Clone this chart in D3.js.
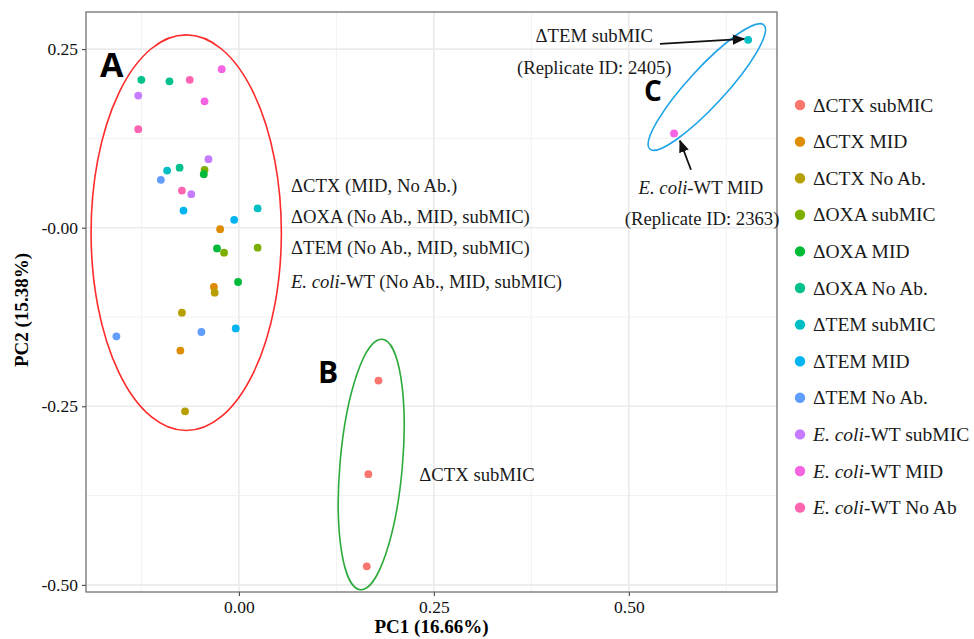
<!DOCTYPE html>
<html>
<head>
<meta charset="utf-8">
<script src="https://cdn.jsdelivr.net/npm/d3@7"></script>
<style>
  body { margin: 0; background: #fff; }
  text { font-family: "Liberation Serif", "Times New Roman", serif; }
</style>
</head>
<body>
<svg id="chart"></svg>
<script>

// groups, in legend order
var groups = ["ΔCTX subMIC", "ΔCTX MID", "ΔCTX No Ab.", "ΔOXA subMIC", "ΔOXA MID", "ΔOXA No Ab.",
  "ΔTEM subMIC", "ΔTEM MID", "ΔTEM No Ab.", "E. coli-WT subMIC", "E. coli-WT MID", "E. coli-WT No Ab"]
var colors = ["#F8766D", "#DE8C00", "#B79F00", "#7CAE00", "#00BA38", "#00C08B",
  "#00BFC4", "#00B4F0", "#619CFF", "#C77CFF", "#F564E3", "#FF64B0"]

// PC1 / PC2 scores, 3 replicates per group (same order as groups)
var pc1 = [
  [0.179, 0.166, 0.164],
  [-0.024, -0.032, -0.075],
  [-0.031, -0.073, -0.069],
  [-0.044, -0.019, 0.024],
  [-0.045, -0.028, -0.001],
  [-0.125, -0.089, -0.076],
  [-0.092, 0.024, 0.653],
  [-0.071, -0.006, -0.004],
  [-0.100, -0.157, -0.048],
  [-0.129, -0.039, -0.061],
  [-0.022, -0.044, 0.558],
  [-0.063, -0.129, -0.073]
]
var pc2 = [
  [-0.214, -0.345, -0.474],
  [-0.002, -0.083, -0.172],
  [-0.091, -0.119, -0.257],
  [0.081, -0.035, -0.028],
  [0.075, -0.029, -0.076],
  [0.207, 0.205, 0.084],
  [0.080, 0.027, 0.263],
  [0.024, 0.011, -0.141],
  [0.067, -0.152, -0.146],
  [0.185, 0.096, 0.047],
  [0.222, 0.177, 0.132],
  [0.207, 0.138, 0.052]
]

var xTicks = [0, 0.25, 0.5]
var xTickLabels = ["0.00", "0.25", "0.50"]
var yTicks = [-0.5, -0.25, 0, 0.25]
var yTickLabels = ["-0.50", "-0.25", "-0.00", "0.25"]
var xMinor = [-0.125, 0.125, 0.375, 0.625]
var yMinor = [-0.375, -0.125, 0.125]

// ellipses: centre (data), semi axes (data units), rotation (deg)
var ellipses = [
  {cx: -0.0675, cy: -0.007, rx: 0.122, ry: 0.277, rot: 0, color: "#FF2A2A"},
  {cx: 0.1697, cy: -0.3315, rx: 0.040, ry: 0.176, rot: 5, color: "#2BAA3A"},
  {cx: 0.600, cy: 0.197, rx: 0.108, ry: 0.026, rot: -47.4, color: "#1EA3E8"}
]

var screen = {width: 974, height: 639}
var margin = {left: 86, right: 197, top: 12, bottom: 47}

var svg = d3.select("#chart")
  .attr("width", screen.width)
  .attr("height", screen.height)

var xScale = d3.scaleLinear()
  .domain([-0.196, 0.69])
  .range([margin.left, screen.width - margin.right])

var yScale = d3.scaleLinear()
  .domain([-0.51, 0.302])
  .range([screen.height - margin.bottom, margin.top])

var x0 = xScale.range()[0], x1 = xScale.range()[1]
var y0 = yScale.range()[1], y1 = yScale.range()[0]

// grid
svg.append("g").selectAll("line")
  .data(xMinor)
  .enter().append("line")
  .attr("x1", d => xScale(d)).attr("x2", d => xScale(d))
  .attr("y1", y0).attr("y2", y1)
  .attr("stroke", "#F2F2F2").attr("stroke-width", 1)
svg.append("g").selectAll("line")
  .data(yMinor)
  .enter().append("line")
  .attr("y1", d => yScale(d)).attr("y2", d => yScale(d))
  .attr("x1", x0).attr("x2", x1)
  .attr("stroke", "#F2F2F2").attr("stroke-width", 1)
svg.append("g").selectAll("line")
  .data(xTicks)
  .enter().append("line")
  .attr("x1", d => xScale(d)).attr("x2", d => xScale(d))
  .attr("y1", y0).attr("y2", y1)
  .attr("stroke", "#EBEBEB").attr("stroke-width", 1.6)
svg.append("g").selectAll("line")
  .data(yTicks)
  .enter().append("line")
  .attr("y1", d => yScale(d)).attr("y2", d => yScale(d))
  .attr("x1", x0).attr("x2", x1)
  .attr("stroke", "#EBEBEB").attr("stroke-width", 1.6)

// axes
var xAxis = d3.axisBottom(xScale)
  .tickValues(xTicks)
  .tickFormat((d, i) => xTickLabels[i])
  .tickSizeOuter(0).tickSize(4).tickPadding(5)
svg.append("g")
  .attr("transform", "translate(0," + y1 + ")")
  .call(xAxis)
  .call(g => g.select(".domain").remove())
  .call(g => g.selectAll("line").attr("stroke", "#333"))
  .call(g => g.selectAll("text").attr("font-size", 17.5).attr("fill", "#111"))

var yAxis = d3.axisLeft(yScale)
  .tickValues(yTicks)
  .tickFormat((d, i) => yTickLabels[i])
  .tickSizeOuter(0).tickSize(4).tickPadding(4)
svg.append("g")
  .attr("transform", "translate(" + x0 + ",0)")
  .call(yAxis)
  .call(g => g.select(".domain").remove())
  .call(g => g.selectAll("line").attr("stroke", "#333"))
  .call(g => g.selectAll("text").attr("font-size", 17.5).attr("fill", "#111"))

// panel border
svg.append("rect")
  .attr("x", x0).attr("y", y0)
  .attr("width", x1 - x0).attr("height", y1 - y0)
  .attr("fill", "none").attr("stroke", "#666").attr("stroke-width", 1.2)

// axis titles
svg.append("text")
  .attr("x", (x0 + x1) / 2).attr("y", 633)
  .attr("text-anchor", "middle")
  .attr("font-size", 19).attr("font-weight", "bold")
  .text("PC1 (16.66%)")
svg.append("text")
  .attr("transform", "translate(28," + 310 + ") rotate(-90)")
  .attr("text-anchor", "middle")
  .attr("font-size", 19).attr("font-weight", "bold")
  .text("PC2 (15.38%)")

// points
var points = []
groups.forEach(function(g, i) {
  pc1[i].forEach(function(v, j) {
    points.push({group: i, x: v, y: pc2[i][j]})
  })
})
svg.append("g").selectAll("circle")
  .data(points)
  .enter().append("circle")
  .attr("cx", d => xScale(d.x))
  .attr("cy", d => yScale(d.y))
  .attr("r", 3.9)
  .attr("fill", d => colors[d.group])

// ellipses
svg.append("g").selectAll("ellipse")
  .data(ellipses)
  .enter().append("ellipse")
  .attr("transform", d => "translate(" + xScale(d.cx) + "," + yScale(d.cy) + ") rotate(" + d.rot + ")")
  .attr("rx", d => xScale(d.rx) - xScale(0))
  .attr("ry", d => yScale(0) - yScale(d.ry))
  .attr("fill", "none")
  .attr("stroke", d => d.color)
  .attr("stroke-width", 1.6)

// arrows
svg.append("defs").append("marker")
  .attr("id", "head")
  .attr("viewBox", "0 0 10 10")
  .attr("refX", 9).attr("refY", 5)
  .attr("markerWidth", 7).attr("markerHeight", 7)
  .attr("orient", "auto")
  .append("path")
  .attr("d", "M0,1 L10,5 L0,9 z")
  .attr("fill", "#111")

var arrows = [
  {from: [0.540, 0.2573], to: [0.6478, 0.2643]},
  {from: [0.5797, 0.0811], to: [0.5656, 0.1217]}
]
svg.append("g").selectAll("line")
  .data(arrows)
  .enter().append("line")
  .attr("x1", d => xScale(d.from[0])).attr("y1", d => yScale(d.from[1]))
  .attr("x2", d => xScale(d.to[0])).attr("y2", d => yScale(d.to[1]))
  .attr("stroke", "#111").attr("stroke-width", 1.8)
  .attr("marker-end", "url(#head)")

// annotations
var notes = [
  {x: 0.531, y: 0.260, anchor: "end", parts: [["ΔTEM subMIC", false]]},
  {x: 0.4557, y: 0.2154, anchor: "middle", parts: [["(Replicate ID: 2405)", false]]},
  {x: 0.5925, y: 0.0476, anchor: "middle", parts: [["E. coli", true], ["-WT MID", false]]},
  {x: 0.594, y: 0.0042, anchor: "middle", parts: [["(Replicate ID: 2363)", false]]},
  {x: 0.0668, y: 0.0503, anchor: "start", parts: [["ΔCTX (MID, No Ab.)", false]]},
  {x: 0.0668, y: 0.0070, anchor: "start", parts: [["ΔOXA (No Ab., MID, subMIC)", false]]},
  {x: 0.0668, y: -0.0364, anchor: "start", parts: [["ΔTEM (No Ab., MID, subMIC)", false]]},
  {x: 0.0668, y: -0.0839, anchor: "start", parts: [["E. coli", true], ["-WT (No Ab., MID, subMIC)", false]]},
  {x: 0.2314, y: -0.354, anchor: "start", parts: [["ΔCTX subMIC", false]]}
]
notes.forEach(function(n) {
  var t = svg.append("text")
    .attr("x", xScale(n.x)).attr("y", yScale(n.y))
    .attr("text-anchor", n.anchor)
    .attr("font-size", 18.7)
    .attr("fill", "#1a1a1a")
  n.parts.forEach(function(p) {
    t.append("tspan").attr("font-style", p[1] ? "italic" : "normal").text(p[0])
  })
})

var letters = [
  {x: -0.163, y: 0.211, label: "A", size: 34},
  {x: 0.1144, y: -0.2168, label: "B", size: 30},
  {x: 0.531, y: 0.1776, label: "C", size: 28}
]
svg.append("g").selectAll("text")
  .data(letters)
  .enter().append("text")
  .attr("x", d => xScale(d.x)).attr("y", d => yScale(d.y))
  .attr("text-anchor", "middle")
  .style("font-family", "'Open Sans', 'Liberation Sans', sans-serif")
  .attr("font-weight", "bold")
  .attr("font-size", d => d.size)
  .attr("fill", "#000")
  .text(d => d.label)

// legend
var legend = svg.append("g")
  .selectAll("g")
  .data(groups)
  .enter().append("g")
  .attr("transform", (d, i) => "translate(800," + (105 + i * 36.6) + ")")
legend.append("circle")
  .attr("r", 5.2)
  .attr("fill", (d, i) => colors[i])
legend.append("text")
  .attr("x", 13).attr("y", 6.5)
  .attr("font-size", 19.5)
  .attr("fill", "#1a1a1a")
  .each(function(d) {
    var t = d3.select(this)
    if (d.indexOf("E. coli") == 0) {
      t.append("tspan").attr("font-style", "italic").text("E. coli")
      t.append("tspan").text(d.slice(7))
    } else {
      t.text(d)
    }
  })

</script>
</body>
</html>
